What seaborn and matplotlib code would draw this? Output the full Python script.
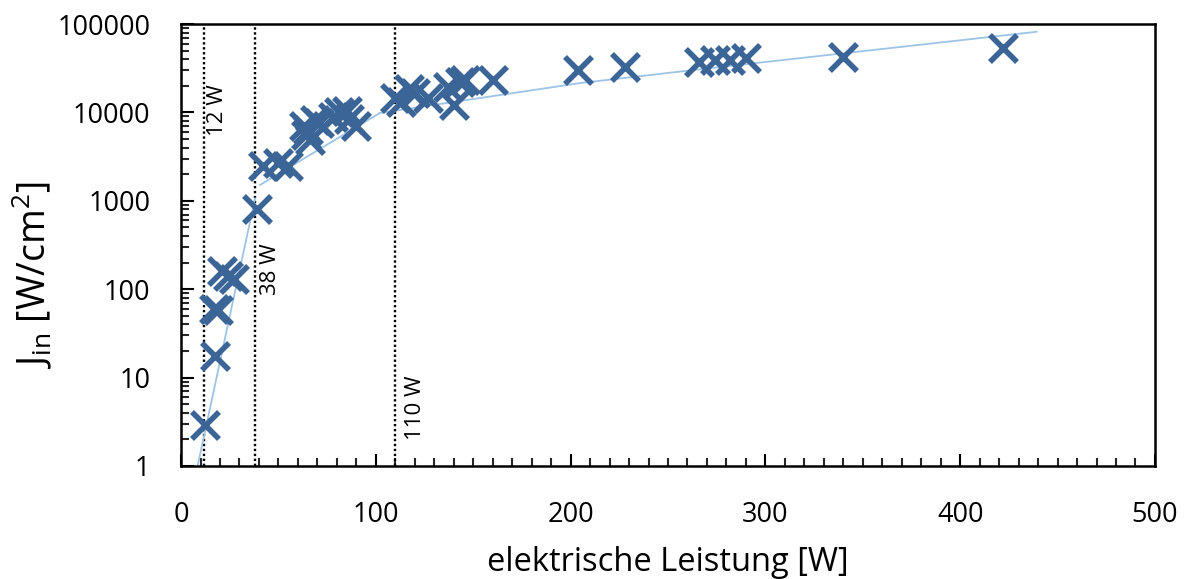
import numpy as np
import pandas as pd
import matplotlib
matplotlib.use("Agg")
import matplotlib.pyplot as plt
import seaborn as sns
from matplotlib.ticker import FixedLocator, FuncFormatter, LogLocator, NullFormatter, MultipleLocator

# ---- data ----
power_w = [12.5, 17.5, 17, 19, 21, 24, 27, 39, 42, 50, 55,
           63, 64, 65, 66, 69, 71, 78, 81, 85, 86, 90,
           110, 113, 117, 120, 127, 137, 140, 143, 146, 160,
           204, 228, 266, 274, 282, 290, 340, 422]
j_in = [2.9, 17.5, 60, 58, 160, 140, 130, 800, 2500, 2700, 2500,
        7000, 5500, 6300, 4900, 8200, 7500, 8800, 10200, 10500, 8500, 7000,
        14500, 13000, 18500, 16500, 14500, 19500, 12000, 22000, 23000, 23500,
        30000, 32500, 37500, 39000, 39500, 41000, 42500, 53500]

trend1_x = [8.5, 38]
trend1_y = [1, 1070]
trend2_x = [40.5, 102]
trend2_y = [1510, 9850]
trend3_x = [102, 205, 266, 439.4]
trend3_y = [9850, 21500, 30700, 81800]

vlines_x = [12, 38, 110]
vline_labels = ["12 W", "38 W", "110 W"]
vlabel_x = [18.8, 45.7, 120.5]
vlabel_y = [10500, 169, 4.5]

y_ticks = [1, 10, 100, 1000, 10000, 100000]
x_ticks = [0, 100, 200, 300, 400, 500]

sns.set_theme(style="white")
plt.rcParams['font.family'] = ['Open Sans', 'DejaVu Sans']
plt.rcParams['mathtext.fontset'] = 'custom'
plt.rcParams['mathtext.rm'] = 'Open Sans'

fig = plt.figure(figsize=(11.88, 5.79), dpi=100)
ax = fig.add_axes([0.1524, 0.1952, 0.9722 - 0.1524, 0.9585 - 0.1952])

marker_col = "#3B6596"
trend_col = "#9DC3E6"

df = pd.DataFrame({"P": power_w, "J": j_in})

for tx, ty in [(trend1_x, trend1_y), (trend2_x, trend2_y), (trend3_x, trend3_y)]:
    sns.lineplot(x=tx, y=ty, ax=ax, color=trend_col, linewidth=1.3,
                 sort=False, estimator=None, zorder=2)

for vx in vlines_x:
    ax.axvline(vx, color="black", linestyle=(0, (1, 1.1)), linewidth=1.7, zorder=1)

sns.scatterplot(data=df, x="P", y="J", ax=ax, marker="x", s=380,
                color=marker_col, linewidth=4.0, zorder=3)

for lbl, lx, ly in zip(vline_labels, vlabel_x, vlabel_y):
    ax.text(lx, ly, lbl, rotation=90, ha="center", va="center", fontsize=16, color="black")

ax.set_yscale("log")
ax.set_xlim(0, 500)
ax.set_ylim(1, 100000)

ax.yaxis.set_major_locator(FixedLocator(y_ticks))
ax.yaxis.set_major_formatter(FuncFormatter(lambda v, p: f"{int(round(v))}"))
ax.yaxis.set_minor_locator(LogLocator(base=10, subs=np.arange(2, 10)))
ax.yaxis.set_minor_formatter(NullFormatter())
ax.xaxis.set_major_locator(FixedLocator(x_ticks))
ax.xaxis.set_minor_locator(MultipleLocator(10))

ax.tick_params(axis="both", which="major", direction="in", length=9, width=1.5,
               labelsize=19.5, colors="black", left=True, bottom=True, top=False, right=False)
ax.tick_params(axis="both", which="minor", direction="in", length=6, width=1.5,
               left=True, bottom=True, top=False, right=False)
ax.tick_params(axis="y", which="major", pad=22)
ax.tick_params(axis="x", which="major", pad=25)

for sp in ax.spines.values():
    sp.set_visible(True)
    sp.set_color("black")
    sp.set_linewidth(1.8)

ax.set_xlabel("elektrische Leistung [W]", fontsize=23.5, color="black", va="center")
ax.xaxis.set_label_coords(0.5, -0.219)
ax.set_ylabel(r"J$_\mathregular{in}$ [W/cm$^\mathregular{2}$]", fontsize=27, color="black", va="center")
ax.yaxis.set_label_coords(-0.153, 0.432)
ax.grid(False)

fig.savefig("out.png", dpi=100)
